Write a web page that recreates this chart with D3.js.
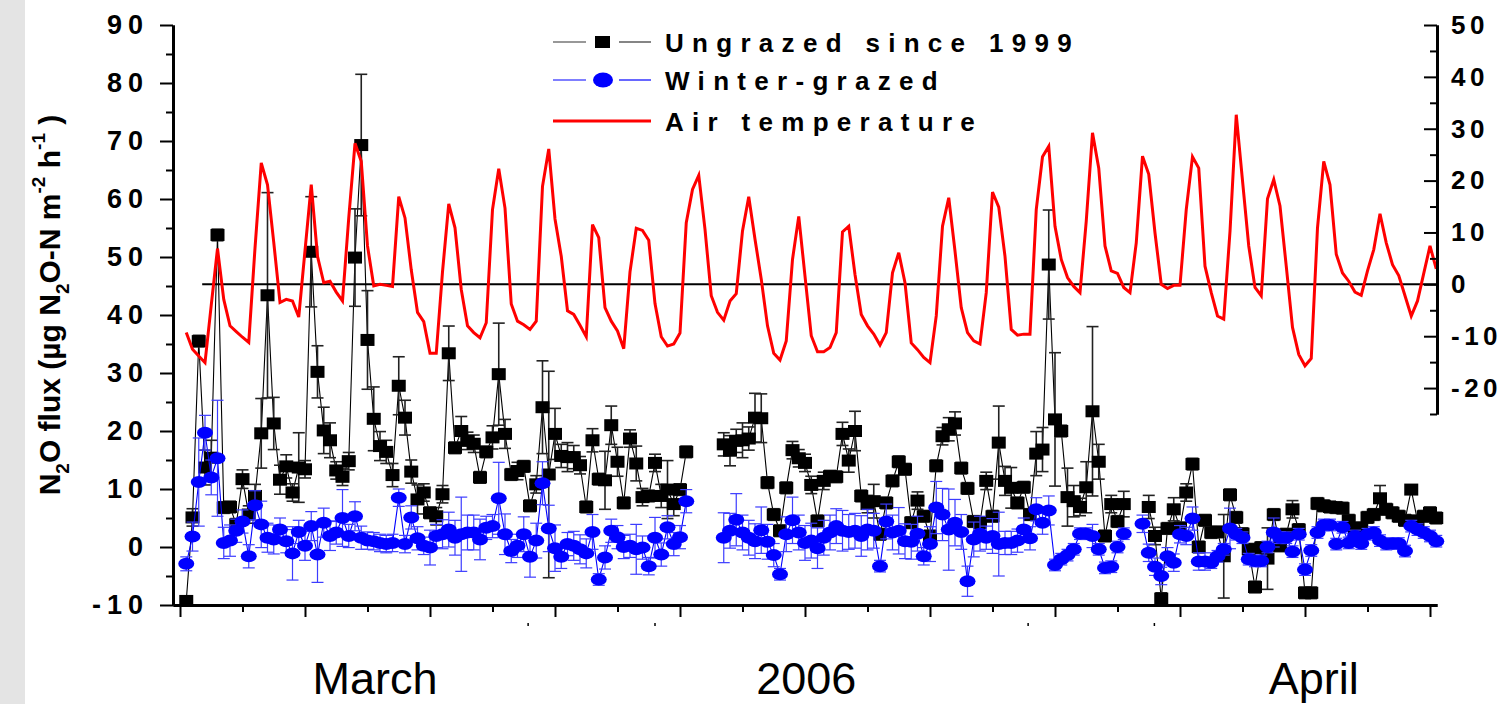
<!DOCTYPE html>
<html><head><meta charset="utf-8">
<script src="https://cdn.jsdelivr.net/npm/d3@7/dist/d3.min.js"></script>
<style>
body{margin:0;background:#fff}
svg{display:block}
text{font-family:"Liberation Sans",Arial,Helvetica,sans-serif}
</style>
</head><body>
<svg id="chart" width="1504" height="704"></svg>
<script>
// ---------------- DATA (3-hourly, index 0..200) ----------------
const airTemperature = [
-9.3,-12.5,-13.8,-15.1,-4.0,6.9,-2.9,-8.0,-9.1,-10.2,
-11.2,7.0,23.4,19.2,8.1,-3.5,-2.9,-3.2,-6.3,6.5,
19.2,5.4,0.3,0.6,-1.5,-3.2,12.8,27.2,23.7,7.4,
-0.3,0,-0.2,-0.4,16.9,12.8,2.8,-5.4,-7.2,-13.3,
-13.3,2.4,15.5,10.9,-1.0,-8.0,-9.3,-10.3,-7.4,14.4,
22.3,14.7,-3.8,-7.1,-7.8,-8.7,-7.1,18.9,26.1,12.6,
5.4,-5.1,-5.8,-7.9,-10.1,11.5,9.0,-4.5,-7.1,-9.0,
-12.4,2.4,10.8,10.4,8.5,-3.7,-10.1,-11.9,-11.5,-9.4,
11.9,18.3,21.0,10.6,-2.2,-5.4,-6.9,-3.2,-1.8,10.3,
16.9,8.7,1.0,-8.0,-13.3,-14.6,-10.9,4.8,13.1,1.6,
-9.9,-13.0,-13.0,-12.2,-9.3,10.1,11.2,1.9,-5.8,-8.0,
-9.6,-11.7,-9.3,2.2,6.1,0.3,-11.3,-12.6,-14.1,-15.1,
-6.1,11.2,16.7,6.4,-4.5,-9.3,-10.9,-11.5,-1.6,17.8,
14.9,5.4,-8.7,-9.8,-9.6,-9.6,14.4,24.6,26.6,11.2,
4.8,1.3,-0.4,-1.6,12.2,29.2,22.4,7.4,2.6,2.1,
-0.6,-1.6,8.0,24.7,21.2,9.9,0,-0.8,-0.2,-0.2,
14.4,24.6,22.4,3.5,-1.6,-6.1,-6.7,10.2,32.7,20.0,
7.4,-0.6,-2.2,16.5,20.2,15.1,3.5,-8.3,-13.5,-15.7,
-14.3,10.9,23.7,19.2,5.8,2.2,0.6,-1.5,-2.1,2.6,
6.7,13.6,8.0,3.8,1.7,-2.2,-6.1,-3.2,2.1,7.4,
3.0];

const ungrazed = [
-9.3,5.1,35.5,13.7,15.4,53.8,6.8,6.9,3.9,11.7,
5.6,8.8,19.6,43.4,21.3,11.6,13.9,9.4,13.7,13.4,
50.9,30.2,20.1,18.4,13.2,12.1,14.8,49.9,69.3,35.7,
22.1,17.4,16.4,12.4,27.8,22.3,13.0,8.2,9.4,5.9,
5.3,9.1,33.4,17.1,20.0,18.3,17.8,12.0,16.4,18.9,
29.8,19.5,12.5,13.1,13.9,7.1,10.8,24.1,12.5,19.5,
15.7,15.5,15.5,14.1,6.9,18.4,11.7,11.5,21.0,14.7,
7.6,18.7,14.4,8.6,8.8,14.5,8.8,9.9,7.4,9.9,
16.4,null,null,null,null,null,17.7,16.6,18.3,18.4,
18.7,22.3,22.2,11.1,5.6,2.8,10.2,16.7,15.3,14.5,
10.7,4.5,11.4,12.2,12.1,19.5,14.9,20.0,8.8,7.4,
7.9,2.2,7.6,11.4,14.7,13.4,4.2,8.0,5.3,1.9,
14.0,19.1,20.3,21.3,13.6,10.1,4.4,4.2,11.4,5.3,
18.0,11.4,10.2,7.6,10.3,5.6,16.1,16.8,48.7,22.0,
20.0,8.6,7.9,6.9,10.3,23.4,14.7,1.9,7.4,4.4,
7.4,null,null,null,6.9,1.9,-8.9,3.2,6.5,3.3,
9.4,14.3,0.0,4.6,2.5,2.6,-1.6,9.0,5.1,2.3,
-0.4,-6.9,-0.1,-2.0,5.6,0.2,2.2,6.5,3.0,-7.9,
-7.9,7.5,7.1,6.9,6.8,6.7,4.6,3.2,3.3,5.1,
5.6,8.4,6.5,5.9,5.3,4.6,9.9,4.5,5.3,5.9,
5.0];

const ungrazedErr = [
0.5,1.5,1.0,3.0,3.0,1.0,1.0,1.0,1.0,1.6,
1.5,2.0,6.0,17.7,4.5,2.5,2.0,1.5,6.0,1.5,
9.5,4.5,4.0,3.0,1.5,1.5,1.5,8.4,12.2,8.5,
5.5,2.5,2.0,2.0,5.0,3.0,2.0,2.5,1.5,1.0,
1.5,1.5,4.7,1.0,2.5,1.5,1.5,1.0,1.0,2.0,
8.8,2.5,1.0,1.5,1.0,1.0,1.5,8.0,17.8,4.4,
2.0,2.5,2.0,1.5,1.0,2.0,1.0,5.0,3.3,2.5,
1.0,1.5,3.0,1.5,1.0,1.5,2.0,5.0,2.0,1.0,
1.0,null,null,null,null,null,2.0,2.6,2.0,3.0,
2.0,4.2,4.2,1.0,1.0,1.0,1.0,1.5,1.5,1.5,
1.5,1.0,1.5,1.0,1.0,2.0,2.0,3.4,1.0,1.5,
2.9,1.0,1.0,1.0,1.0,1.0,1.0,1.5,1.0,1.0,
1.0,1.5,2.0,2.0,1.0,1.0,1.0,1.0,1.5,1.0,
6.3,2.5,3.5,1.0,1.0,1.0,3.8,3.8,9.4,11.5,
1.0,5.0,2.7,1.5,4.4,14.6,3.0,1.0,1.5,1.0,
2.2,null,null,null,2.0,1.5,1.0,1.0,2.0,1.0,
1.5,1.0,1.0,1.0,1.0,1.0,7.2,1.0,1.0,1.0,
1.0,1.0,1.0,5.3,1.0,1.0,1.0,1.5,1.0,1.0,
1.0,1.0,1.0,1.0,1.0,1.0,1.0,1.0,1.0,1.0,
1.0,2.2,1.0,1.0,1.0,1.0,0.5,1.0,1.0,1.0,
1.0];

const winterGrazed = [
-2.9,1.8,11.2,19.7,12.0,15.3,0.7,1.1,2.8,4.4,
-1.6,7.2,3.9,1.6,1.3,3.0,1.0,-1.1,2.6,0.2,
3.6,-1.3,4.2,1.9,2.5,5.0,1.9,5.3,1.6,1.1,
1.0,0.7,0.5,0.7,8.5,0.5,5.1,1.5,0.2,-0.1,
1.9,2.2,3.0,1.6,2.2,2.5,2.5,1.3,3.3,3.6,
8.4,2.2,-0.7,0.2,2.2,-1.7,1.1,11.0,3.2,-0.2,
-1.7,0.5,0.2,-0.4,-1.1,2.6,-5.6,-1.8,2.8,1.7,
0.0,0.2,-0.4,-0.1,-3.3,1.6,-1.3,3.4,0.5,1.7,
7.9,null,null,null,null,null,1.6,2.8,4.7,2.5,
1.6,1.0,2.9,0.9,-1.4,-4.7,2.2,4.6,2.5,0.7,
1.1,-0.2,1.6,2.5,3.6,2.8,2.6,2.8,1.9,3.0,
2.8,-3.3,4.4,2.5,2.8,1.0,0.9,2.3,-1.6,0.5,
6.8,5.6,3.0,4.2,2.6,-5.9,1.3,2.3,1.6,1.9,
0.5,0.7,0.7,1.1,3.0,1.5,6.5,4.2,6.3,-3.1,
-2.1,-1.4,-0.4,2.3,2.3,1.9,-0.4,-3.6,-3.4,0.0,
2.3,null,null,4.0,-1.0,-3.4,-5.0,-1.6,-2.7,2.2,
1.9,4.9,-2.5,-2.5,-2.7,-1.6,-0.4,3.2,2.2,1.6,
-2.1,-2.4,-2.4,0.0,2.5,1.6,1.6,-0.8,2.2,-3.9,
-0.6,2.5,3.8,3.8,0.5,3.4,0.7,1.9,0.6,2.2,
2.5,1.1,0.5,0.6,0.6,-0.7,3.6,3.0,2.5,1.9,
1.0];

const winterGrazedErr = [
1.2,2.5,7.6,3.0,3.0,10.0,2.7,2.7,2.0,2.0,
2.0,2.5,4.0,2.5,2.5,2.0,2.0,4.6,2.0,2.5,
2.5,4.8,2.5,2.5,2.0,4.9,2.0,2.5,2.0,1.5,
1.5,1.5,1.5,1.5,1.5,1.5,2.0,2.0,1.5,3.0,
2.0,2.5,3.0,3.0,6.4,3.0,3.0,3.5,2.0,2.0,
6.2,3.5,2.0,2.0,3.0,3.5,3.0,3.7,4.0,4.0,
2.0,2.0,2.5,2.5,2.5,3.0,1.0,2.0,2.0,2.0,
2.0,2.0,4.3,2.0,1.5,3.5,2.0,2.0,2.0,2.0,
2.0,null,null,null,null,null,4.3,3.0,4.5,3.0,
3.0,3.0,4.0,3.0,2.0,1.0,3.0,4.0,3.0,3.0,
3.0,3.5,3.0,3.0,3.0,3.5,3.0,3.0,3.5,3.5,
3.0,1.0,3.0,3.0,4.0,3.0,3.0,3.0,1.5,3.0,
4.5,4.5,7.0,4.0,3.0,2.6,3.0,3.0,2.0,3.0,
5.5,2.0,2.0,2.0,2.0,2.0,2.0,2.0,2.5,1.0,
1.0,1.0,1.0,1.0,1.0,2.0,1.0,1.0,1.0,1.0,
1.0,null,null,1.5,1.5,1.5,1.5,1.5,1.5,1.5,
1.5,2.0,1.5,1.5,1.0,1.0,1.0,3.5,1.0,1.0,
1.0,1.0,1.0,1.0,2.5,1.0,1.0,1.0,1.0,1.0,
1.0,1.0,1.0,1.0,1.0,1.0,1.0,1.0,1.0,1.0,
1.0,1.0,1.0,1.0,1.0,1.0,1.0,1.0,1.0,1.0,
1.0];

const fluxTicks = [-10,0,10,20,30,40,50,60,70,80,90];
const fluxMinorTicks = [-5,5,15,25,35,45,55,65,75,85];
const tempTicks = [-20,-10,0,10,20,30,40,50];
const tempMinorTicks = [-25,-15,-5,5,15,25,35,45];
const timeMajorTicks = [-1,19,39,59,79,99,119,139,159,179,199];
const timeMinorTicks = [9,29,49,69,89,109,129,149,169,189];
const periodLabels = ["March","2006","April"];
const periodLabelAt = [30.2,99.2,180.4];
const strayMarksAt = [54.7,75,134.7,154.9];
const zeroLineFrom = 2.55;
const seriesNames = ["Ungrazed since 1999","Winter-grazed","Air temperature"];

// ---------------- CHART ----------------
const svg = d3.select("#chart");
svg.append("rect").attr("x",0).attr("y",0).attr("width",25).attr("height",704).attr("fill","#e4e4e4");

const x = d3.scaleLinear().domain([-2.12, 200.12]).range([173, 1437]);
const yL = d3.scaleLinear().domain([-10, 90]).range([605, 25]);
const yR = d3.scaleLinear().domain([-25, 50]).range([414, 25]);

const idx = d3.range(airTemperature.length);

// Ungrazed (black)
const gB = svg.append("g");
gB.append("path")
  .datum(idx)
  .attr("fill","none").attr("stroke","#000").attr("stroke-width",1.1)
  .attr("d", d3.line().defined(i => ungrazed[i] != null).x(i => x(i)).y(i => yL(ungrazed[i])));
const errB = idx.filter(i => ungrazed[i] != null && ungrazedErr[i] != null);
gB.selectAll("line.eb").data(errB).join("line")
  .attr("stroke","#222").attr("stroke-width",1.6)
  .attr("x1", i => x(i)).attr("x2", i => x(i))
  .attr("y1", i => yL(ungrazed[i] + ungrazedErr[i])).attr("y2", i => yL(ungrazed[i] - ungrazedErr[i]));
gB.selectAll("line.cu").data(errB).join("line")
  .attr("stroke","#222").attr("stroke-width",1.6)
  .attr("x1", i => x(i) - 6).attr("x2", i => x(i) + 6)
  .attr("y1", i => yL(ungrazed[i] + ungrazedErr[i])).attr("y2", i => yL(ungrazed[i] + ungrazedErr[i]));
gB.selectAll("line.cl").data(errB).join("line")
  .attr("stroke","#222").attr("stroke-width",1.6)
  .attr("x1", i => x(i) - 6).attr("x2", i => x(i) + 6)
  .attr("y1", i => yL(ungrazed[i] - ungrazedErr[i])).attr("y2", i => yL(ungrazed[i] - ungrazedErr[i]));
gB.selectAll("rect.m").data(idx.filter(i => ungrazed[i] != null)).join("rect")
  .attr("fill","#000")
  .attr("x", i => x(i) - 7).attr("y", i => yL(ungrazed[i]) - 6)
  .attr("width",14).attr("height",12);

// Winter-grazed (blue)
const gW = svg.append("g");
const blue = "#0000ff";
gW.append("path")
  .datum(idx)
  .attr("fill","none").attr("stroke",blue).attr("stroke-width",1.1)
  .attr("d", d3.line().defined(i => winterGrazed[i] != null).x(i => x(i)).y(i => yL(winterGrazed[i])));
const errW = idx.filter(i => winterGrazed[i] != null && winterGrazedErr[i] != null);
gW.selectAll("line.eb").data(errW).join("line")
  .attr("stroke","#3c3cff").attr("stroke-width",1.2)
  .attr("x1", i => x(i)).attr("x2", i => x(i))
  .attr("y1", i => yL(winterGrazed[i] + winterGrazedErr[i])).attr("y2", i => yL(winterGrazed[i] - winterGrazedErr[i]));
gW.selectAll("line.cu").data(errW).join("line")
  .attr("stroke","#3c3cff").attr("stroke-width",1.2)
  .attr("x1", i => x(i) - 6).attr("x2", i => x(i) + 6)
  .attr("y1", i => yL(winterGrazed[i] + winterGrazedErr[i])).attr("y2", i => yL(winterGrazed[i] + winterGrazedErr[i]));
gW.selectAll("line.cl").data(errW).join("line")
  .attr("stroke","#3c3cff").attr("stroke-width",1.2)
  .attr("x1", i => x(i) - 6).attr("x2", i => x(i) + 6)
  .attr("y1", i => yL(winterGrazed[i] - winterGrazedErr[i])).attr("y2", i => yL(winterGrazed[i] - winterGrazedErr[i]));
gW.selectAll("ellipse").data(idx.filter(i => winterGrazed[i] != null)).join("ellipse")
  .attr("fill",blue)
  .attr("cx", i => x(i)).attr("cy", i => yL(winterGrazed[i]))
  .attr("rx",8).attr("ry",6);

// Air temperature (red) and zero line
svg.append("line")
  .attr("x1", x(zeroLineFrom)).attr("x2", x.range()[1])
  .attr("y1", yR(0)).attr("y2", yR(0))
  .attr("stroke","#000").attr("stroke-width",2);
svg.append("path")
  .datum(idx)
  .attr("fill","none").attr("stroke","#ff0000").attr("stroke-width",3).attr("stroke-linejoin","miter")
  .attr("d", d3.line().x(i => x(i)).y(i => yR(airTemperature[i])));

// ---------------- AXES ----------------
const hyphen = d => String(d);
const tickFont = (size, ls) => g => g.selectAll("text")
  .attr("font-size",size).attr("font-weight","bold").attr("fill","#000")
  .style("letter-spacing",ls + "px");

// left
const gl = svg.append("g").attr("transform",`translate(${x.range()[0]},0)`);
gl.call(d3.axisLeft(yL).tickValues(fluxTicks).tickFormat(hyphen).tickSize(13).tickPadding(11).tickSizeOuter(0));
gl.call(tickFont(27, 6));
const glm = svg.append("g").attr("transform",`translate(${x.range()[0]},0)`);
glm.call(d3.axisLeft(yL).tickValues(fluxMinorTicks).tickSize(7).tickFormat("").tickSizeOuter(0));
[gl,glm].forEach(g => { g.select(".domain").attr("stroke-width",3); g.selectAll(".tick line").attr("stroke-width",2); });

// right
const gr = svg.append("g").attr("transform",`translate(${x.range()[1]},0)`);
gr.call(d3.axisRight(yR).tickValues(tempTicks).tickFormat(hyphen).tickSize(-13).tickPadding(14).tickSizeOuter(0));
gr.call(tickFont(26, 4.5));
const grm = svg.append("g").attr("transform",`translate(${x.range()[1]},0)`);
grm.call(d3.axisRight(yR).tickValues(tempMinorTicks).tickSize(-7).tickFormat("").tickSizeOuter(0));
[gr,grm].forEach(g => { g.select(".domain").attr("stroke-width",3); g.selectAll(".tick line").attr("stroke-width",2); });

// bottom
const gb = svg.append("g").attr("transform",`translate(0,${yL.range()[0]})`);
gb.call(d3.axisBottom(x).tickValues(timeMajorTicks).tickSize(12).tickFormat("").tickSizeOuter(0));
const gbm = svg.append("g").attr("transform",`translate(0,${yL.range()[0]})`);
gbm.call(d3.axisBottom(x).tickValues(timeMinorTicks).tickSize(7).tickFormat("").tickSizeOuter(0));
[gb,gbm].forEach(g => { g.select(".domain").attr("stroke-width",3); g.selectAll(".tick line").attr("stroke-width",2); });

svg.append("g").selectAll("line").data(strayMarksAt).join("line")
  .attr("x1", d => x(d)).attr("x2", d => x(d))
  .attr("y1", yL.range()[0] + 18).attr("y2", yL.range()[0] + 21)
  .attr("stroke","#000").attr("stroke-width",1.5);

svg.append("g").selectAll("text").data(periodLabels).join("text")
  .attr("x", (d,k) => x(periodLabelAt[k])).attr("y", 694)
  .attr("text-anchor","middle").attr("font-size",45).attr("fill","#000")
  .text(d => d);

// left title
const title = svg.append("text")
  .attr("transform","translate(60,305) rotate(-90)")
  .attr("text-anchor","middle").attr("font-size",30).attr("font-weight","bold").attr("fill","#000");
title.append("tspan").text("N");
title.append("tspan").attr("font-size",19).attr("dy",9).text("2");
title.append("tspan").attr("dy",-9).text("O flux (µg N");
title.append("tspan").attr("font-size",19).attr("dy",9).text("2");
title.append("tspan").attr("dy",-9).text("O-N m");
title.append("tspan").attr("font-size",19).attr("dy",-15).text("-2");
title.append("tspan").attr("dy",15).text(" h");
title.append("tspan").attr("font-size",19).attr("dy",-15).text("-1");
title.append("tspan").attr("dy",15).text(" )");

// ---------------- LEGEND ----------------
const legY = [42, 80, 121];
const lg = svg.append("g");
lg.append("line").attr("x1",553).attr("x2",586).attr("y1",legY[0]).attr("y2",legY[0]).attr("stroke","#333").attr("stroke-width",1.2);
lg.append("line").attr("x1",619).attr("x2",651).attr("y1",legY[0]).attr("y2",legY[0]).attr("stroke","#333").attr("stroke-width",1.2);
lg.append("rect").attr("x",595).attr("y",legY[0]-6).attr("width",15).attr("height",12).attr("fill","#000");
lg.append("line").attr("x1",553).attr("x2",586).attr("y1",legY[1]).attr("y2",legY[1]).attr("stroke",blue).attr("stroke-width",1.2);
lg.append("line").attr("x1",619).attr("x2",651).attr("y1",legY[1]).attr("y2",legY[1]).attr("stroke",blue).attr("stroke-width",1.2);
lg.append("ellipse").attr("cx",603).attr("cy",legY[1]).attr("rx",10).attr("ry",7.5).attr("fill",blue);
lg.append("line").attr("x1",553).attr("x2",651).attr("y1",legY[2]).attr("y2",legY[2]).attr("stroke","#ff0000").attr("stroke-width",3);
lg.selectAll("text").data(seriesNames).join("text")
  .attr("x",665).attr("y",(d,k) => legY[k] + 9.5)
  .attr("font-size",26).attr("font-weight","bold").attr("fill","#000")
  .style("letter-spacing","8.3px")
  .text(d => d);
</script>
</body></html>
